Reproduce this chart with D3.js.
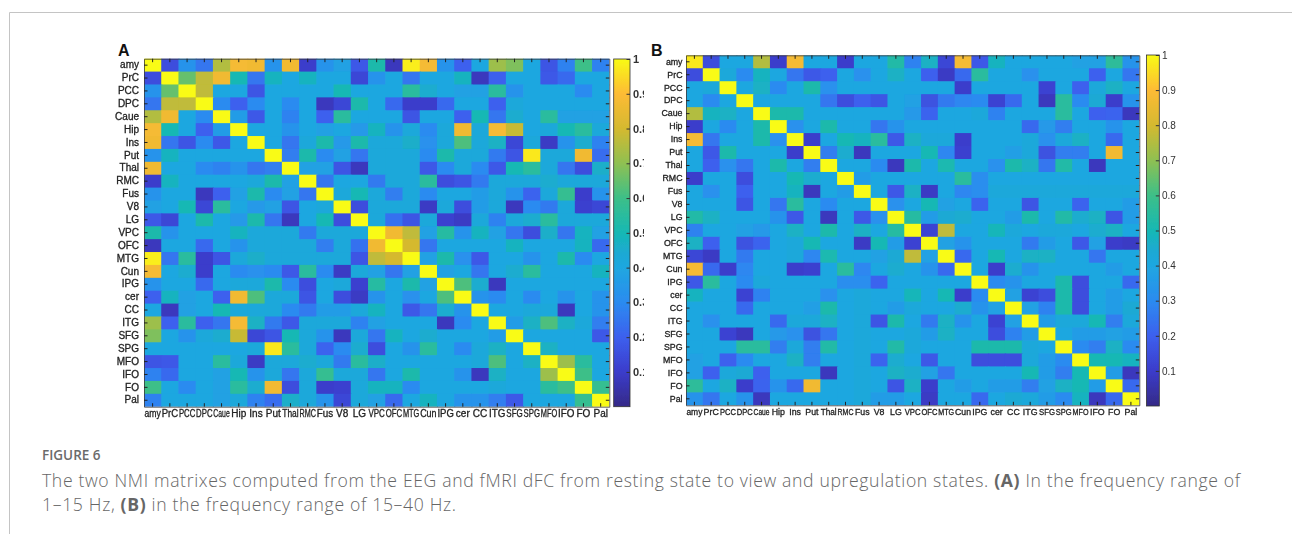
<!DOCTYPE html>
<html>
<head>
<meta charset="utf-8">
<script src="https://cdn.jsdelivr.net/npm/d3@7/dist/d3.min.js"></script>
<style>
html,body{margin:0;padding:0;background:#fff;}
svg{display:block;}
</style>
</head>
<body>
<svg id="chart" width="1292" height="534"></svg>
<script>
const regions = ["amy","PrC","PCC","DPC","Caue","Hip","Ins","Put","Thal","RMC","Fus","V8","LG","VPC","OFC","MTG","Cun","IPG","cer","CC","ITG","SFG","SPG","MFO","IFO","FO","Pal"];
const colorTicks = [0.1,0.2,0.3,0.4,0.5,0.6,0.7,0.8,0.9,1];
const rampStops = [0,0.1,0.2,0.3,0.4,0.44,0.5,0.6,0.7,0.8,0.9,1];
const rampColors = ["#352a87","#3b3ccb","#3c60ee","#2b8bf0","#1fa7e0","#1ca9d4","#17b8b4","#3dbf88","#8fc052","#d5b92f","#fdbb35","#f9fb15"];

// Upper triangle of the symmetric matrices, each row starting on the diagonal.
const nmiA = [
[1,.15,.33,.25,.75,.88,.87,.33,.87,.1,.33,.38,.18,.52,.08,.98,.88,.33,.2,.4,.72,.68,.4,.17,.28,.6,.28],
[1,.65,.77,.87,.5,.25,.48,.4,.48,.4,.4,.13,.33,.4,.25,.4,.4,.48,.08,.2,.4,.4,.18,.22,.4,.4],
[1,.77,.4,.4,.17,.4,.4,.4,.4,.5,.4,.4,.4,.55,.45,.4,.38,.38,.55,.33,.4,.4,.4,.3,.4],
[1,.3,.2,.3,.4,.3,.4,.08,.13,.52,.4,.22,.1,.1,.22,.4,.4,.2,.42,.4,.4,.4,.4,.4],
[1,.36,.18,.4,.28,.4,.2,.55,.4,.4,.4,.17,.4,.4,.2,.5,.25,.45,.4,.55,.38,.38,.38],
[1,.4,.4,.33,.4,.38,.4,.35,.48,.33,.42,.3,.42,.87,.42,.88,.78,.4,.42,.5,.55,.42],
[1,.4,.25,.42,.52,.35,.52,.42,.42,.46,.32,.42,.62,.42,.47,.13,.42,.09,.33,.45,.28],
[1,.27,.52,.3,.38,.25,.42,.42,.42,.3,.52,.42,.42,.26,.17,.97,.42,.42,.87,.23],
[1,.38,.38,.17,.08,.42,.42,.42,.18,.3,.42,.3,.18,.5,.55,.42,.25,.15,.46],
[1,.25,.4,.4,.26,.42,.42,.55,.15,.17,.26,.42,.42,.42,.45,.42,.42,.42],
[1,.42,.5,.42,.27,.42,.3,.4,.4,.36,.42,.33,.21,.42,.58,.1,.33],
[1,.15,.42,.42,.42,.09,.42,.15,.36,.42,.08,.3,.26,.42,.11,.13],
[1,.42,.24,.17,.42,.11,.09,.42,.28,.42,.45,.55,.42,.42,.42],
[1,.87,.77,.38,.54,.33,.48,.38,.25,.15,.46,.25,.48,.38],
[1,.8,.25,.4,.4,.4,.4,.48,.4,.4,.4,.48,.22],
[1,.38,.52,.32,.18,.4,.4,.33,.4,.52,.3,.4],
[1,.38,.4,.25,.4,.45,.55,.4,.4,.4,.48],
[1,.62,.45,.08,.4,.4,.4,.4,.4,.4],
[1,.33,.3,.4,.3,.4,.33,.4,.33],
[1,.4,.4,.42,.42,.08,.4,.33],
[1,.36,.47,.62,.47,.42,.27],
[1,.4,.4,.4,.4,.18],
[1,.47,.4,.4,.4],
[1,.72,.55,.4],
[1,.6,.4],
[1,.58],
[1]
];
const nmiB = [
[.97,.15,.4,.4,.75,.1,.88,.4,.4,.1,.4,.4,.53,.28,.47,.13,.88,.18,.48,.4,.4,.4,.4,.38,.38,.56,.33],
[1,.42,.3,.48,.4,.25,.18,.2,.4,.32,.4,.47,.4,.2,.09,.22,.55,.4,.4,.32,.4,.4,.4,.2,.4,.25],
[1,.4,.47,.3,.4,.52,.32,.4,.4,.4,.4,.4,.4,.4,.1,.4,.4,.4,.4,.12,.4,.2,.42,.47,.4],
[1,.4,.4,.4,.4,.25,.15,.2,.17,.4,.38,.16,.26,.29,.3,.12,.22,.4,.08,.55,.3,.44,.1,.33],
[1,.52,.52,.4,.4,.4,.4,.4,.4,.35,.21,.4,.4,.42,.28,.4,.4,.4,.55,.4,.2,.21,.08],
[1,.32,.4,.52,.4,.4,.25,.33,.4,.4,.4,.4,.4,.4,.4,.22,.35,.27,.4,.4,.33,.4],
[1,.1,.4,.5,.48,.55,.18,.47,.42,.42,.1,.4,.4,.4,.42,.32,.42,.47,.4,.22,.4],
[1,.27,.45,.08,.4,.4,.4,.5,.29,.11,.4,.4,.37,.42,.16,.27,.27,.4,.87,.4],
[1,.4,.4,.3,.08,.52,.4,.51,.4,.4,.32,.52,.47,.25,.53,.4,.08,.4,.4],
[1,.36,.4,.4,.4,.4,.4,.55,.31,.4,.4,.4,.4,.4,.4,.4,.4,.4],
[1,.4,.18,.47,.09,.4,.29,.31,.42,.42,.42,.42,.42,.42,.42,.42,.42],
[1,.32,.4,.5,.38,.4,.21,.4,.4,.17,.4,.4,.21,.4,.4,.36],
[1,.54,.36,.44,.45,.4,.4,.36,.52,.4,.53,.45,.47,.17,.36],
[1,.12,.77,.4,.4,.49,.42,.4,.42,.42,.4,.45,.47,.4],
[1,.38,.33,.4,.4,.4,.26,.36,.4,.18,.38,.1,.09],
[1,.22,.4,.5,.4,.47,.47,.4,.4,.25,.4,.4],
[1,.4,.1,.45,.33,.4,.4,.4,.4,.36,.4],
[1,.3,.33,.4,.4,.52,.15,.4,.4,.22],
[1,.38,.12,.15,.52,.15,.4,.36,.4],
[1,.38,.28,.52,.15,.4,.36,.44],
[1,.36,.42,.42,.5,.27,.42],
[1,.4,.36,.36,.38,.36],
[1,.3,.27,.47,.3],
[1,.5,.5,.48],
[1,.36,.08],
[1,.22],
[1]
];

const panels = [
  {tag:"A",  m:nmiA, x0:144, x1:609.3, y0:58.7, y1:406.7, bx0:613.7, bx1:630,  by0:59,  by1:406.7, lfs:10,
   tagX:118, tagY:55.5, yLabelX:139, tickFs:11, tickW:700, tickX:633, clip:644, blur:0.5},
  {tag:"B",  m:nmiB, x0:686, x1:1139.3, y0:55.3, y1:405.3, bx0:1146.5, bx1:1159.3, by0:55, by1:406, lfs:8.8,
   tagX:651, tagY:56, yLabelX:682.5, tickFs:10, tickW:400, tickX:1162, clip:null, blur:0.65}
];

const svg = d3.select("#chart");
const defs = svg.append("defs");
const ramp = d3.scaleLinear().domain(rampStops).range(rampColors).clamp(true);
const sans = "'Liberation Sans', Arial, sans-serif";

// figure frame
svg.append("path").attr("d","M1292,12.5H9.5V534").attr("fill","none").attr("stroke","#c4c4c4").attr("stroke-width",1);

const grad = defs.append("linearGradient").attr("id","ramp").attr("x1",0).attr("x2",0).attr("y1",1).attr("y2",0);
rampStops.forEach(s => grad.append("stop").attr("offset",s).attr("stop-color",ramp(s)));

function mirror(up){
  const n = up.length;
  const full = d3.range(n).map(()=>new Array(n));
  up.forEach((row,i)=>row.forEach((v,k)=>{ full[i][i+k]=v; full[i+k][i]=v; }));
  return full;
}

panels.forEach(p=>{
  const fid = "blur"+p.tag;
  defs.append("filter").attr("id",fid).attr("x","-5%").attr("y","-5%").attr("width","110%").attr("height","110%")
    .append("feGaussianBlur").attr("stdDeviation",p.blur);

  const g = svg.append("g").attr("filter",`url(#${fid})`);
  const x = d3.scaleBand().domain(regions).range([p.x0,p.x1]);
  const y = d3.scaleBand().domain(regions).range([p.y0,p.y1]);
  const full = mirror(p.m);
  const cells = [];
  full.forEach((row,i)=>row.forEach((v,j)=>cells.push({r:regions[i],c:regions[j],v})));

  g.append("g").selectAll("rect").data(cells).join("rect")
    .attr("x",d=>x(d.c)).attr("y",d=>y(d.r))
    .attr("width",d=>Math.min(x(d.c)+x.bandwidth()+1,p.x1)-x(d.c))
    .attr("height",d=>Math.min(y(d.r)+y.bandwidth()+1,p.y1)-y(d.r))
    .attr("fill",d=>ramp(d.v));

  const styleAxis = s=>{
    s.selectAll(".domain").attr("stroke","#3a3a3a").attr("stroke-width",0.8);
    s.selectAll(".tick line").attr("stroke","#222").attr("stroke-width",1);
    s.selectAll("text").attr("font-family",sans).attr("font-size",p.lfs).attr("fill","#222").attr("stroke","#222").attr("stroke-width",0.3);
  };
  const tl = 3.5;
  const bottom = g.append("g").attr("transform",`translate(0,${p.y1})`)
    .call(d3.axisBottom(x).tickSizeInner(-tl).tickSizeOuter(0).tickPadding(3.5)).call(styleAxis);
  // labels wider than their cell are narrowed to fit it, so neighbours stay apart
  bottom.selectAll("text").each(function(){
    const fit = x.bandwidth()-0.8;
    const w = this.getComputedTextLength();
    if(w>fit) d3.select(this).attr("transform",`scale(${fit/w},1)`);
  });
  g.append("g").attr("transform",`translate(${p.x0},0)`)
    .call(d3.axisLeft(y).tickSizeInner(-tl).tickSizeOuter(0).tickPadding(p.x0-p.yLabelX)).call(styleAxis);
  g.append("g").attr("transform",`translate(0,${p.y0})`)
    .call(d3.axisTop(x).tickSizeInner(-tl).tickSizeOuter(0).tickFormat("")).call(styleAxis);
  g.append("g").attr("transform",`translate(${p.x1},0)`)
    .call(d3.axisRight(y).tickSizeInner(-tl).tickSizeOuter(0).tickFormat("")).call(styleAxis);

  // colour bar
  const cy = d3.scaleLinear().domain([0,1]).range([p.by1,p.by0]);
  g.append("rect").attr("x",p.bx0).attr("y",p.by0).attr("width",p.bx1-p.bx0).attr("height",p.by1-p.by0)
    .attr("fill","url(#ramp)").attr("stroke","#333").attr("stroke-width",0.8);
  const cax = g.append("g").attr("transform",`translate(${p.bx1},0)`)
    .call(d3.axisRight(cy).tickValues(colorTicks).tickFormat(d=>d===1?"1":d3.format(".1f")(d))
      .tickSizeInner(-3.5).tickSizeOuter(0).tickPadding(p.tickX-p.bx1));
  cax.select(".domain").remove();
  cax.selectAll(".tick line").attr("stroke","#333").attr("stroke-width",1);
  cax.selectAll("text").attr("font-family",sans).attr("font-size",p.tickFs).attr("font-weight",p.tickW).attr("fill","#333");
  if(p.clip){
    defs.append("clipPath").attr("id","clip"+p.tag).append("rect").attr("x",p.bx0).attr("y",0).attr("width",p.clip-p.bx0).attr("height",534);
    const wrap = g.append("g").attr("clip-path",`url(#clip${p.tag})`);
    wrap.node().appendChild(cax.node());
  }

  // panel letter
  svg.append("text").attr("x",p.tagX).attr("y",p.tagY).text(p.tag)
    .attr("font-family",sans).attr("font-weight",700).attr("font-size",16).attr("fill","#111");
});

// caption
const capFont = "'Open Sans', Lato, sans-serif";
svg.append("text").attr("x",42).attr("y",460).text("FIGURE 6")
  .attr("font-family",capFont).attr("font-weight",600).attr("font-size",13.5).attr("fill","#6b6b6b");
const line1 = svg.append("text").attr("x",42).attr("y",487).attr("font-family",capFont).attr("font-size",17.6)
  .attr("font-weight",300).attr("fill","#666").attr("textLength",1198).attr("lengthAdjust","spacing");
line1.append("tspan").text("The two NMI matrixes computed from the EEG and fMRI dFC from resting state to view and upregulation states. ");
line1.append("tspan").attr("font-weight",700).attr("fill","#666").text("(A)");
line1.append("tspan").text(" In the frequency range of");
const line2 = svg.append("text").attr("x",42).attr("y",511).attr("font-family",capFont).attr("font-size",17.6)
  .attr("font-weight",300).attr("fill","#666").attr("textLength",414).attr("lengthAdjust","spacing");
line2.append("tspan").text("1–15 Hz, ");
line2.append("tspan").attr("font-weight",700).attr("fill","#666").text("(B)");
line2.append("tspan").text(" in the frequency range of 15–40 Hz.");
</script>
</body>
</html>
